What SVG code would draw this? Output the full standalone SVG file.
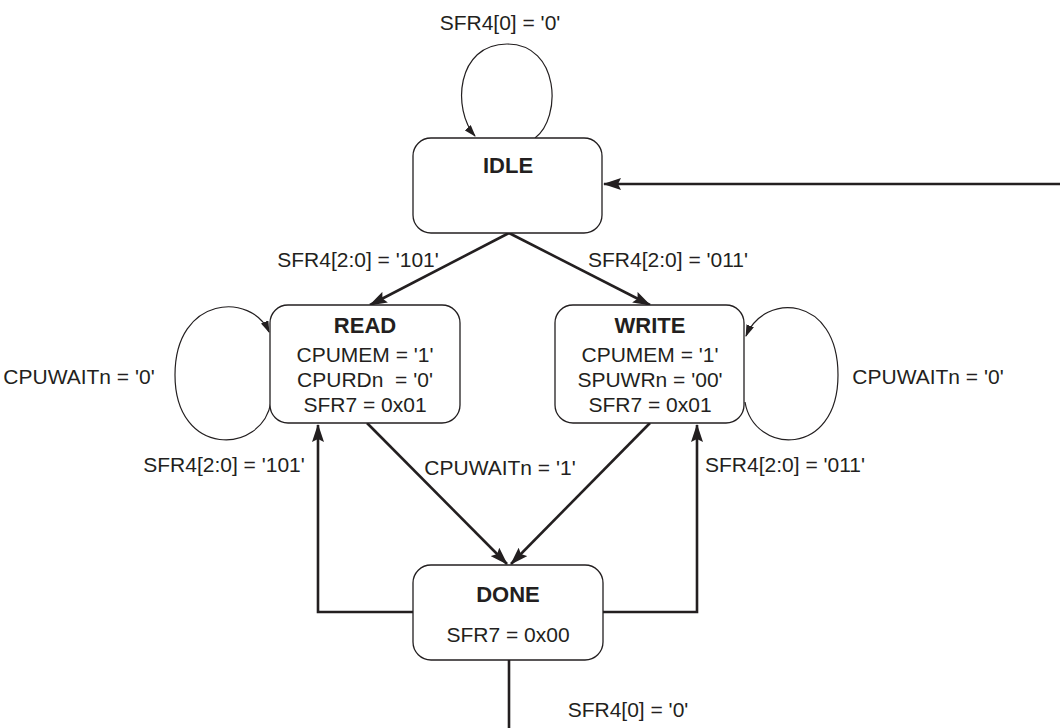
<svg xmlns="http://www.w3.org/2000/svg" width="1060" height="728" viewBox="0 0 1060 728">
<style>
.box{fill:#fff;stroke:#231f20;stroke-width:1.3}
.t{font-family:"Liberation Sans",Arial,sans-serif;font-size:21px;fill:#231f20;text-anchor:middle}
.b{font-weight:bold;font-size:22px}
.e{fill:none;stroke:#231f20;stroke-width:2.6}
.l{fill:none;stroke:#231f20;stroke-width:1.2}
</style>
<defs>
<marker id="ah" viewBox="0 0 18 12" refX="17" refY="6" markerWidth="18" markerHeight="12" markerUnits="userSpaceOnUse" orient="auto">
<path d="M0,0 L18,6 L0,12 L3,6 Z" fill="#231f20"/>
</marker>
<marker id="as" viewBox="0 0 12 8" refX="11" refY="4" markerWidth="12" markerHeight="8" markerUnits="userSpaceOnUse" orient="auto">
<path d="M0,0 L12,4 L0,8 Z" fill="#231f20"/>
</marker>
</defs>
<g id="connectors">
<path class="l" d="M535,138 C562,118 560,44 507,44 C456,44 452,110 475,136" marker-end="url(#as)"/>
<path class="e" d="M1060,184 L604,184" marker-end="url(#ah)"/>
<path class="e" d="M509,233 L370,305" marker-end="url(#ah)"/>
<path class="e" d="M509,233 L650,305" marker-end="url(#ah)"/>
<path class="l" d="M271,402 C262,455 175,458 175,375 C175,295 252,292 269,332" marker-end="url(#as)"/>
<path class="l" d="M745,402 C754,455 838,458 838,375 C838,295 764,292 746,336" marker-end="url(#as)"/>
<path class="e" d="M367,423 L507,564" marker-end="url(#ah)"/>
<path class="e" d="M650,423 L511,564" marker-end="url(#ah)"/>
<path class="e" d="M413,612 L318,612 L318,425" marker-end="url(#ah)"/>
<path class="e" d="M603,612 L697,612 L697,425" marker-end="url(#ah)"/>
<path class="e" d="M509,660 L509,728"/>
<text class="t" x="500" y="30">SFR4[0] = '0'</text>
<text class="t" x="358" y="267">SFR4[2:0] = '101'</text>
<text class="t" x="668" y="267">SFR4[2:0] = '011'</text>
<text class="t" x="79" y="384">CPUWAITn = '0'</text>
<text class="t" x="928" y="384">CPUWAITn = '0'</text>
<text class="t" x="500" y="475">CPUWAITn = '1'</text>
<text class="t" x="224" y="472">SFR4[2:0] = '101'</text>
<text class="t" x="785" y="472">SFR4[2:0] = '011'</text>
<text class="t" x="628" y="717">SFR4[0] = '0'</text>
</g>
<g id="idle">
<rect class="box" x="413" y="138" width="189" height="95" rx="18"/>
<text class="t b" x="508" y="173">IDLE</text>
</g>
<g id="read">
<rect class="box" x="270" y="305" width="190" height="118" rx="18"/>
<text class="t b" x="365" y="333">READ</text>
<text class="t" x="365" y="362">CPUMEM = '1'</text>
<text class="t" x="365" y="387" xml:space="preserve">CPURDn  = '0'</text>
<text class="t" x="365" y="412">SFR7 = 0x01</text>
</g>
<g id="write">
<rect class="box" x="555" y="305" width="189" height="118" rx="18"/>
<text class="t b" x="650" y="333">WRITE</text>
<text class="t" x="650" y="362">CPUMEM = '1'</text>
<text class="t" x="650" y="387">SPUWRn = '00'</text>
<text class="t" x="650" y="412">SFR7 = 0x01</text>
</g>
<g id="done">
<rect class="box" x="413" y="565" width="190" height="95" rx="18"/>
<text class="t b" x="508" y="602">DONE</text>
<text class="t" x="508" y="642">SFR7 = 0x00</text>
</g>
</svg>
